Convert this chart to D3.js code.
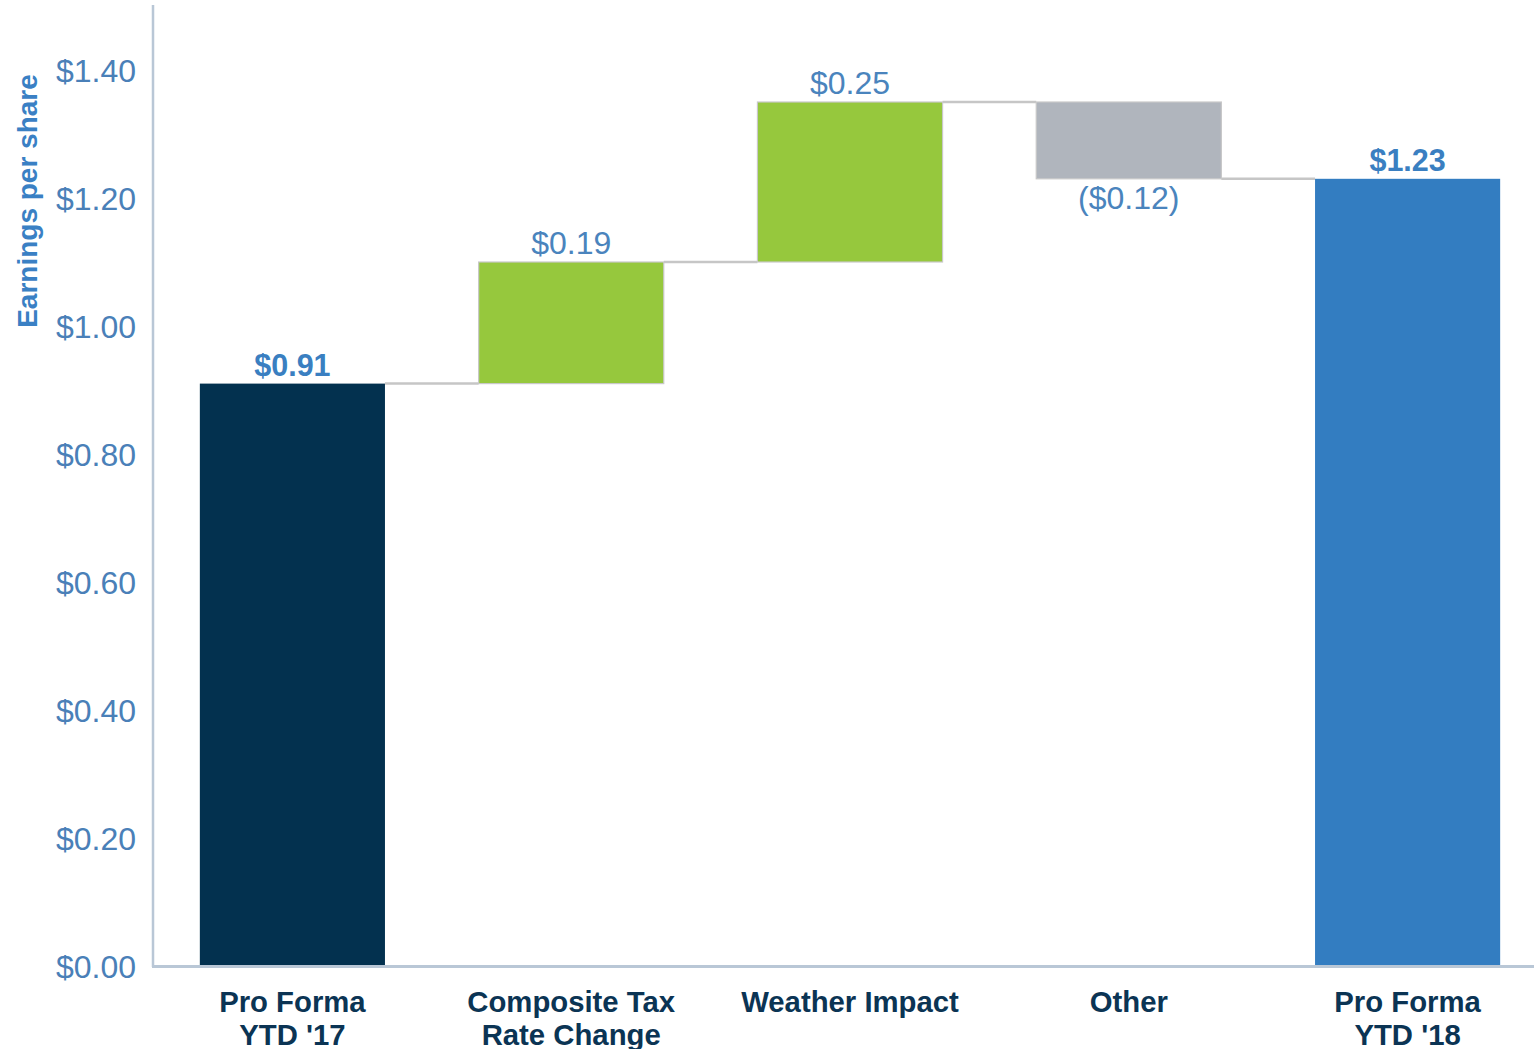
<!DOCTYPE html>
<html><head><meta charset="utf-8">
<script src="https://cdn.jsdelivr.net/npm/d3@7"></script>
<style>
html,body{margin:0;padding:0;background:#fff;}
svg{display:block;font-family:"Liberation Sans",Arial,sans-serif;}
</style></head>
<body>
<svg id="c" width="1534" height="1049"></svg>
<script>
const categories = [["Pro Forma","YTD '17"],["Composite Tax","Rate Change"],["Weather Impact"],["Other"],["Pro Forma","YTD '18"]];
const values = [0.91, 0.19, 0.25, -0.12, 1.23];
const kinds = ["total","delta","delta","delta","total"];
const valueLabels = ["$0.91","$0.19","$0.25","($0.12)","$1.23"];
const tickValues = [0,0.2,0.4,0.6,0.8,1.0,1.2,1.4];
const tickLabels = ["$0.00","$0.20","$0.40","$0.60","$0.80","$1.00","$1.20","$1.40"];
const yTitle = "Earnings per share";

const colors = {total0:"#03314f", up:"#96c83d", down:"#b0b5bd", total1:"#337dc1"};

const svg = d3.select("#c");
const x = d3.scaleBand().domain(d3.range(values.length)).range([153,1547]).paddingInner(0.336).paddingOuter(0.168);
const y = d3.scaleLinear().domain([0,1.5]).range([966,6]);

// compute waterfall
let run = 0;
const bars = values.map((v,i)=>{
  let y0,y1;
  if(kinds[i]==="total"){ y0=0; y1=v; run=v; }
  else { y0=run; y1=run+v; run=y1; }
  return {i,v,y0,y1,end:run};
});

// connectors
for(let i=0;i<bars.length-1;i++){
  const lvl = bars[i].end;
  svg.append("line")
    .attr("x1", x(i)+x.bandwidth()).attr("x2", x(i+1))
    .attr("y1", y(lvl)).attr("y2", y(lvl))
    .attr("stroke","#c6c6c6").attr("stroke-width",2.5);
}

// bars
svg.selectAll("rect.bar").data(bars).enter().append("rect")
  .attr("x", d=>x(d.i)).attr("width", x.bandwidth())
  .attr("y", d=>y(Math.max(d.y0,d.y1)))
  .attr("height", d=>Math.abs(y(d.y0)-y(d.y1)))
  .attr("fill", d=> d.i===0?colors.total0 : (d.i===bars.length-1?colors.total1 : (d.v>=0?colors.up:colors.down)))
  .attr("stroke", d=> kinds[d.i]==="total" ? "none" : "#c8c8c8")
  .attr("stroke-width",1.2);

// value labels
svg.selectAll("text.val").data(bars).enter().append("text")
  .attr("x", d=>x(d.i)+x.bandwidth()/2)
  .attr("y", d=> d.v>=0 ? y(Math.max(d.y0,d.y1))-8 : y(Math.min(d.y0,d.y1))+30)
  .attr("text-anchor","middle")
  .attr("font-size", d=> kinds[d.i]==="total"?30.5:32)
  .attr("font-weight", d=> kinds[d.i]==="total"?"bold":"normal")
  .attr("fill", d=> kinds[d.i]==="total"?"#3a7fc1":"#4a84bd")
  .text((d,i)=>valueLabels[i]);

// axes lines
svg.append("line").attr("x1",153).attr("x2",153).attr("y1",5).attr("y2",y(0)+1)
  .attr("stroke","#b9c7d6").attr("stroke-width",2.5);
svg.append("line").attr("x1",152).attr("x2",1534).attr("y1",y(0)+0.5).attr("y2",y(0)+0.5)
  .attr("stroke","#b9c7d6").attr("stroke-width",3);

// y tick labels
const yAxis = d3.axisLeft(y).tickValues(tickValues).tickSize(0).tickPadding(0)
  .tickFormat((d,i)=>tickLabels[i]);
const ya = svg.append("g").attr("transform","translate(136,0)").call(yAxis);
ya.select(".domain").remove();
ya.selectAll("text").attr("font-size",32).attr("fill","#4a80b8")
  .attr("font-family",'"Liberation Sans",Arial,sans-serif').attr("dy","0.35em");

// y title
svg.append("text").attr("transform","translate(37,201) rotate(-90)")
  .attr("text-anchor","middle").attr("font-size",28).attr("font-weight","bold")
  .attr("fill","#3a80c4").text(yTitle);

// category labels
const cg = svg.selectAll("text.cat").data(categories).enter().append("text")
  .attr("text-anchor","middle").attr("font-size",29.3).attr("font-weight","bold")
  .attr("fill","#0b3454");
cg.each(function(lines,i){
  const t = d3.select(this);
  lines.forEach((ln,j)=>{
    t.append("tspan").attr("x", x(i)+x.bandwidth()/2).attr("y", 1012 + j*33).text(ln);
  });
});
</script>
</body></html>
